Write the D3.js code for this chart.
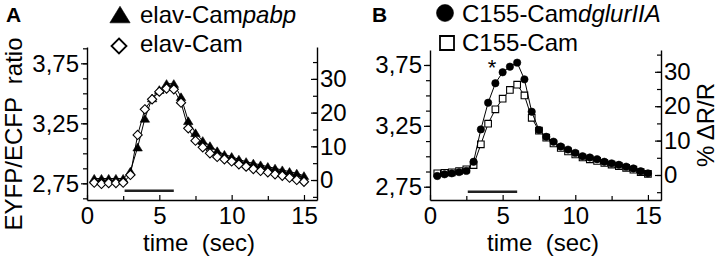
<!DOCTYPE html>
<html>
<head>
<meta charset="utf-8">
<script src="https://cdn.jsdelivr.net/npm/d3@7"></script>
<style>
  body { margin: 0; background: #fff; }
  svg { display: block; font-family: "Liberation Sans", Arial, Helvetica, sans-serif; }
</style>
</head>
<body>
<svg id="chart" width="720" height="260"></svg>
<script>
// time points (sec)
const time = [0.5, 1, 1.5, 2, 2.5, 3, 3.5, 4, 4.5, 5, 5.5, 6, 6.5, 7, 7.5, 8, 8.5, 9, 9.5, 10,
  10.5, 11, 11.5, 12, 12.5, 13, 13.5, 14, 14.5, 15]

// panel A, EYFP/ECFP ratio
const elavCampabp = [2.79, 2.79, 2.79, 2.79, 2.79, 2.85, 3.05, 3.29, 3.46, 3.53, 3.58, 3.58, 3.47, 3.27, 3.17,
  3.105, 3.062, 3.02, 2.99, 2.972, 2.95, 2.93, 2.917, 2.903, 2.889, 2.875, 2.861, 2.847, 2.833, 2.813]
const elavCam = [2.755, 2.745, 2.752, 2.752, 2.755, 2.82, 3.153, 3.367, 3.45, 3.514, 3.54, 3.533, 3.422, 3.208, 3.105,
  3.05, 3.0, 2.97, 2.95, 2.932, 2.908, 2.889, 2.869, 2.853, 2.842, 2.825, 2.813, 2.797, 2.778, 2.763]

// panel B, EYFP/ECFP ratio
const c155CamDglur = [2.838, 2.852, 2.86, 2.87, 2.88, 2.955, 3.221, 3.44, 3.6, 3.69, 3.736, 3.769, 3.632, 3.366, 3.216,
  3.16, 3.12, 3.08, 3.055, 3.028, 3.0, 2.99, 2.976, 2.955, 2.942, 2.93, 2.915, 2.9, 2.877, 2.86]
const c155Cam = [2.86, 2.865, 2.868, 2.879, 2.893, 2.928, 3.098, 3.268, 3.386, 3.473, 3.545, 3.588, 3.5, 3.316, 3.21,
  3.153, 3.105, 3.068, 3.04, 3.015, 2.99, 2.975, 2.962, 2.945, 2.932, 2.92, 2.905, 2.89, 2.87, 2.855]

const ratioTicks = [2.75, 3.25, 3.75]
const ratioMinor = [2.625, 2.75, 2.875, 3, 3.125, 3.25, 3.375, 3.5, 3.625, 3.75, 3.875]
const pctTicks = [0, 10, 20, 30]
const pctMinor = [-5, 0, 5, 10, 15, 20, 25, 30, 35]
const timeTicks = [0, 5, 10, 15]
const timeMinor = [2.5, 7.5, 12.5]
const stimulus = [2.6, 6.0]

const svg = d3.select("#chart")

var comma = function (d) {
  return d.toFixed(2).replace(".", ",")
}

function shape(type, s) {
  if (type == "triangle") return "M0," + (-s * 0.95) + "L" + s * 1.1 + "," + s * 0.85 + "L" + (-s * 1.1) + "," + s * 0.85 + "Z"
  if (type == "diamond") return "M0," + (-s) + "L" + s + ",0L0," + s + "L" + (-s) + ",0Z"
  if (type == "square") return "M" + (-s) + "," + (-s) + "h" + 2 * s + "v" + 2 * s + "h" + (-2 * s) + "Z"
  return "M" + s + ",0A" + s + "," + s + " 0 1,1 " + (-s) + ",0A" + s + "," + s + " 0 1,1 " + s + ",0Z"
}

function styleAxis(g) {
  g.attr("font-size", 24).attr("font-family", null)
  g.selectAll(".domain").attr("stroke", "#000").attr("stroke-width", 1.4)
  g.selectAll(".tick line").attr("stroke", "#000").attr("stroke-width", 1.2)
  g.selectAll(".tick text").attr("fill", "#000")
}

function drawPanel(p) {
  var x = d3.scaleLinear().domain([0, 15.9]).range([p.left, p.right])
  var y = d3.scaleLinear().domain(p.ratioDomain).range([p.bottom, p.top])
  var yp = d3.scaleLinear().domain(p.pctDomain).range([p.bottom, p.top])

  var inY = function (v) { return v >= p.ratioDomain[0] && v <= p.ratioDomain[1] }
  var inP = function (v) { return v >= p.pctDomain[0] && v <= p.pctDomain[1] }

  // left axis
  svg.append("g")
    .attr("transform", "translate(" + p.left + ",0)")
    .call(d3.axisLeft(y).tickValues(ratioMinor.filter(inY)).tickSize(4).tickSizeOuter(0).tickFormat(() => ""))
    .call(styleAxis)
  svg.append("g")
    .attr("transform", "translate(" + p.left + ",0)")
    .call(d3.axisLeft(y).tickValues(ratioTicks).tickSize(6).tickSizeOuter(0).tickPadding(2).tickFormat(comma))
    .call(styleAxis)
    .select(".domain").remove()

  // right axis, % change (ticks point inward)
  svg.append("g")
    .attr("transform", "translate(" + p.right + ",0)")
    .call(d3.axisRight(yp).tickValues(pctMinor.filter(inP)).tickSize(-4).tickSizeOuter(0).tickFormat(() => ""))
    .call(styleAxis)
  svg.append("g")
    .attr("transform", "translate(" + p.right + ",0)")
    .call(d3.axisRight(yp).tickValues(pctTicks).tickSize(-6).tickSizeOuter(0).tickPadding(3))
    .call(styleAxis)
    .select(".domain").remove()

  // time axis
  svg.append("g")
    .attr("transform", "translate(0," + p.bottom + ")")
    .call(d3.axisBottom(x).tickValues(timeMinor).tickSize(-4).tickSizeOuter(0).tickFormat(() => ""))
    .call(styleAxis)
  svg.append("g")
    .attr("transform", "translate(0," + p.bottom + ")")
    .call(d3.axisBottom(x).tickValues(timeTicks).tickSize(-5).tickSizeOuter(0).tickPadding(7))
    .call(styleAxis)
    .select(".domain").remove()

  svg.append("text")
    .attr("x", p.timeLabelX)
    .attr("y", 251)
    .attr("text-anchor", "middle")
    .attr("font-size", 24)
    .attr("xml:space", "preserve")
    .text("time  (sec)")

  // stimulus bar
  svg.append("line")
    .attr("x1", x(stimulus[0]))
    .attr("x2", x(stimulus[1]))
    .attr("y1", p.stimY)
    .attr("y2", p.stimY)
    .attr("stroke", "#222")
    .attr("stroke-width", 2.5)

  var line = d3.line()
    .x((d, i) => x(time[i]))
    .y(d => y(d))

  p.series.forEach(function (s) {
    svg.append("path")
      .datum(s.values)
      .attr("d", line)
      .attr("fill", "none")
      .attr("stroke", "#000")
      .attr("stroke-width", 1)

    svg.selectAll(".m-" + s.id)
      .data(s.values)
      .enter().append("path")
      .attr("class", "m-" + s.id)
      .attr("transform", (d, i) => "translate(" + x(time[i]) + "," + y(d) + ")")
      .attr("d", shape(s.shape, s.size))
      .attr("fill", s.fill)
      .attr("stroke", "#000")
      .attr("stroke-width", s.fill == "#000" ? 0.6 : 1.1)

    // legend entry
    svg.append("path")
      .attr("transform", "translate(" + s.legend[0] + "," + s.legend[1] + ")")
      .attr("d", shape(s.shape, s.legendSize))
      .attr("fill", s.fill)
      .attr("stroke", "#000")
      .attr("stroke-width", s.fill == "#000" ? 0.6 : 1.8)

    var t = svg.append("text")
      .attr("x", s.legend[2])
      .attr("y", s.legend[3])
      .attr("font-size", 24)
    t.append("tspan").text(s.label)
    if (s.italic) t.append("tspan").attr("font-style", "italic").text(s.italic)
  })

  svg.append("text")
    .attr("x", p.letter[0])
    .attr("y", p.letter[1])
    .attr("font-size", 21)
    .attr("font-weight", "bold")
    .text(p.name)
}

drawPanel({
  name: "A",
  letter: [6, 22],
  left: 87, right: 317, top: 47, bottom: 200,
  ratioDomain: [2.611, 3.886],
  pctDomain: [-5.93, 39.47],
  timeLabelX: 199,
  stimY: 190.7,
  series: [
    { id: "tri", values: elavCampabp, shape: "triangle", size: 4.3, legendSize: 9.2, fill: "#000",
      label: "elav-Cam", italic: "pabp", legend: [120, 15, 140, 23] },
    { id: "dia", values: elavCam, shape: "diamond", size: 4.6, legendSize: 7.5, fill: "#fff",
      label: "elav-Cam", italic: "", legend: [119, 46, 140, 52] }
  ]
})

drawPanel({
  name: "B",
  letter: [372, 22],
  left: 430, right: 661, top: 50, bottom: 200,
  ratioDomain: [2.641, 3.873],
  pctDomain: [-7.27, 36.34],
  timeLabelX: 543,
  stimY: 191.7,
  series: [
    { id: "sq", values: c155Cam, shape: "square", size: 3.3, legendSize: 7, fill: "#fff",
      label: "C155-Cam", italic: "", legend: [447, 43, 462, 51] },
    { id: "cir", values: c155CamDglur, shape: "circle", size: 3.7, legendSize: 8.5, fill: "#000",
      label: "C155-Cam", italic: "dglurIIA", legend: [445, 13, 462, 22] }
  ]
})

// significance mark
svg.append("text")
  .attr("x", 492)
  .attr("y", 75)
  .attr("text-anchor", "middle")
  .attr("font-size", 22)
  .text("*")

// axis titles
svg.append("text")
  .attr("transform", "translate(22,134) rotate(-90)")
  .attr("text-anchor", "middle")
  .attr("font-size", 24)
  .attr("xml:space", "preserve")
  .text("EYFP/ECFP  ratio")

svg.append("text")
  .attr("transform", "translate(714,125) rotate(-90)")
  .attr("text-anchor", "middle")
  .attr("font-size", 24)
  .text("% ΔR/R")
</script>
</body>
</html>
